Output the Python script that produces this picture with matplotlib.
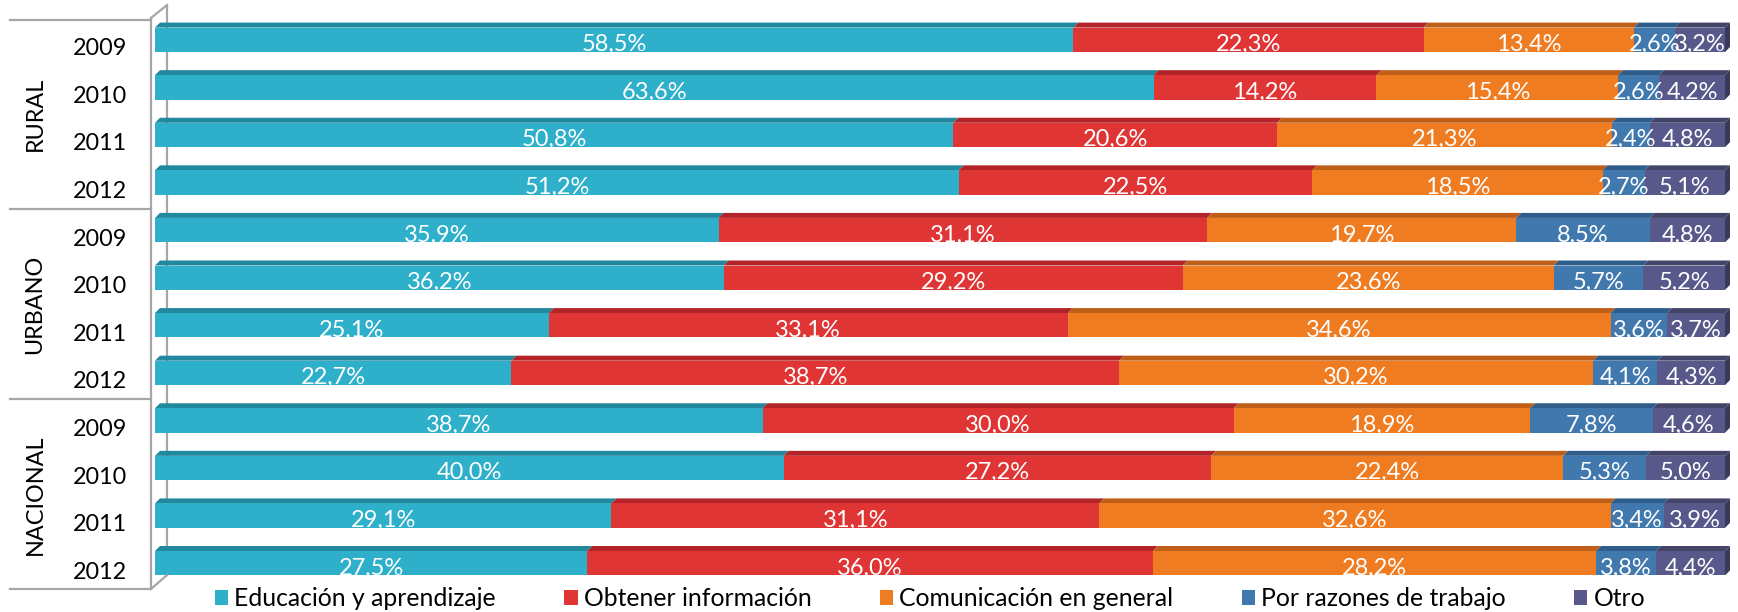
import matplotlib
matplotlib.use('Agg')
import matplotlib.pyplot as plt
import numpy as np
from matplotlib.patches import Polygon, Patch
from matplotlib.lines import Line2D
from matplotlib.transforms import blended_transform_factory

plt.rcParams['font.family'] = ['Lato', 'DejaVu Sans']

groups = ['RURAL', 'URBANO', 'NACIONAL']
years = ['2009', '2010', '2011', '2012']
names = ['Educación y aprendizaje', 'Obtener información', 'Comunicación en general',
         'Por razones de trabajo', 'Otro']

educ = [58.5, 63.6, 50.8, 51.2, 35.9, 36.2, 25.1, 22.7, 38.7, 40.0, 29.1, 27.5]
info = [22.3, 14.2, 20.6, 22.5, 31.1, 29.2, 33.1, 38.7, 30.0, 27.2, 31.1, 36.0]
comu = [13.4, 15.4, 21.3, 18.5, 19.7, 23.6, 34.6, 30.2, 18.9, 22.4, 32.6, 28.2]
trab = [2.6, 2.6, 2.4, 2.7, 8.5, 5.7, 3.6, 4.1, 7.8, 5.3, 3.4, 3.8]
otro = [3.2, 4.2, 4.8, 5.1, 4.8, 5.2, 3.7, 4.3, 4.6, 5.0, 3.9, 4.4]

front = ['#2eafca', '#e03535', '#f07c21', '#4178ae', '#58598a']
top = ['#22889e', '#b32428', '#bf5e17', '#2f5d8b', '#434468']
side = '#3a3b5c'

W, H = 1738, 612
fig = plt.figure(figsize=(W / 100, H / 100), dpi=100)
ax = fig.add_axes([155 / W, 1 - 587 / H, 1570 / W, 571 / H])
ax.patch.set_visible(False)
ax.set_xlim(0, 100)
ax.set_ylim(11.5, -0.5)
ax.axis('off')

series = [np.array(s) for s in [educ, info, comu, trab, otro]]
total = sum(series)          # 100% stacked, like the original
y = np.arange(12)
h = 0.513
dx = 5 * 100 / 1570.0   # depth offset in data units
dy = 5 / 47.6
fs = 17

left = np.zeros(12)
for k, vals in enumerate(series):
    w = vals / total * 100
    ax.barh(y, w, left=left, height=h, color=front[k], edgecolor='none', zorder=3)
    for i in range(12):
        x0, x1 = left[i], left[i] + w[i]
        yt = y[i] - h / 2
        ax.add_patch(Polygon([(x0, yt), (x1, yt), (x1 + dx, yt - dy), (x0 + dx, yt - dy)],
                             closed=True, facecolor=top[k], edgecolor='none',
                             zorder=2, clip_on=False))
        ax.text((x0 + x1) / 2, y[i] + h / 2 - 0.02, ('%.1f%%' % vals[i]).replace('.', ','),
                ha='center', va='baseline', color='white', fontsize=fs, zorder=5)
    left = left + w

# side faces at bar ends
for i in range(12):
    x1 = left[i]
    yt, yb = y[i] - h / 2, y[i] + h / 2
    ax.add_patch(Polygon([(x1, yt), (x1 + dx, yt - dy), (x1 + dx, yb - dy), (x1, yb)],
                         closed=True, facecolor=side, edgecolor='none', zorder=2, clip_on=False))

# category labels
tr = blended_transform_factory(fig.transFigure, ax.transData)
for i in range(12):
    ax.text(100 / W, y[i] + 0.326, years[i % 4], transform=tr, ha='center', va='baseline',
            fontsize=16.8, color='black')
for g in range(3):
    ax.text(35 / W, g * 4 + 1.5 + 0.06, groups[g], transform=tr, ha='center', va='center',
            rotation=90, fontsize=16.8, color='black')

# wall and separators (pixel positions)
def px_line(xs, ys, z=1, lw=1.6):
    fig.add_artist(Line2D([x / W for x in xs], [1 - v / H for v in ys],
                          transform=fig.transFigure, color='#a6a6a6', lw=lw, zorder=z))

px_line([167, 167], [5, 575], z=-1)
px_line([151, 167], [18, 5])
px_line([151, 167], [589, 575])
px_line([151, 151], [18, 589])
for sy in [20, 209, 399, 589]:
    px_line([10, 151], [sy, sy])

handles = [Patch(facecolor=c, edgecolor='none') for c in front]
fig.legend(handles, names, loc='center', bbox_to_anchor=(930 / W, 1 - 599 / H), ncol=5,
           frameon=False, handlelength=0.55, handleheight=0.55, handletextpad=0.25,
           columnspacing=2.75, fontsize=17.8, borderpad=0)

fig.savefig('out.png', dpi=100)
